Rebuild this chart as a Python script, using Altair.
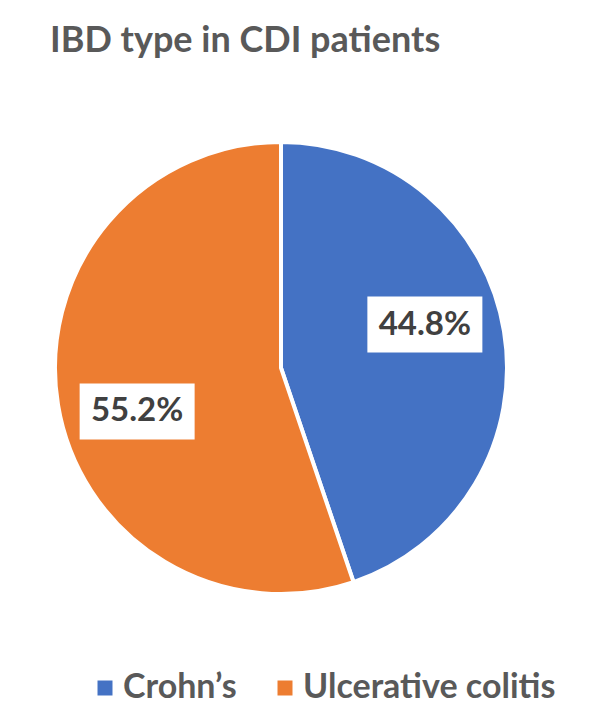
import altair as alt
import pandas as pd

# IBD type among CDI patients (share of patients, %)
ibd_types = ["Crohn’s", "Ulcerative colitis"]
percent = [44.8, 55.2]
colors = ["#4472C4", "#ED7D31"]

df = pd.DataFrame({"type": ibd_types, "percent": percent})

FONT = "Lato"
SIZE = 452  # pie diameter incl. stroke
BOX = "M-1,-0.487L1,-0.487L1,0.487L-1,0.487Z"

base = alt.Chart(df)

pie = base.mark_arc(stroke="white", strokeWidth=4).encode(
    theta=alt.Theta("percent:Q", stack=True),
    color=alt.Color(
        "type:N",
        scale=alt.Scale(domain=ibd_types, range=colors),
        legend=alt.Legend(
            title=None,
            orient="none",
            direction="horizontal",
            legendX=33,
            legendY=529,
            symbolType="square",
            symbolSize=225,
            symbolStrokeWidth=0,
            labelFont=FONT,
            labelFontSize=34,
            labelFontWeight="bold",
            labelColor="#595959",
            labelOffset=1,
            columnPadding=31,
            labelLimit=400,
        ),
    ),
)

# label positions: a bit ahead of each slice's mid angle, like Excel's best fit
labels = base.transform_window(
    cum="sum(percent)", frame=[None, 0]
).transform_calculate(
    ang="(datum.cum - datum.percent / 2) / 100 * 2 * PI - 0.13",
    lx="0.665 * sin(datum.ang)",
    ly="0.665 * cos(datum.ang)",
    label="format(datum.percent, '.1f') + '%'",
)

xs = alt.X("lx:Q", scale=alt.Scale(domain=[-1, 1]), axis=None)
ys = alt.Y("ly:Q", scale=alt.Scale(domain=[-1, 1]), axis=None)

boxes = labels.mark_point(
    shape=BOX, size=13225, filled=True, color="white", opacity=1
).encode(x=xs, y=ys)

texts = labels.mark_text(
    font=FONT, fontSize=33, fontWeight="bold", color="#404040", baseline="middle"
).encode(x=xs, y=ys, text="label:N")

chart = (
    alt.layer(pie, boxes, texts)
    .properties(
        width=SIZE,
        height=SIZE,
        autosize=alt.AutoSizeParams(type="none"),
        padding={"left": 47, "top": 134, "right": 92, "bottom": 116},
        title=alt.Title(
            "IBD type in CDI patients",
            anchor="start",
            frame="group",
            font=FONT,
            fontSize=36,
            fontWeight="bold",
            color="#595959",
            baseline="alphabetic",
            offset=46,
            dx=-5,
        ),
    )
    .configure_view(stroke=None)
)

chart.save("out.html", embed_options={"renderer": "svg", "actions": False})
